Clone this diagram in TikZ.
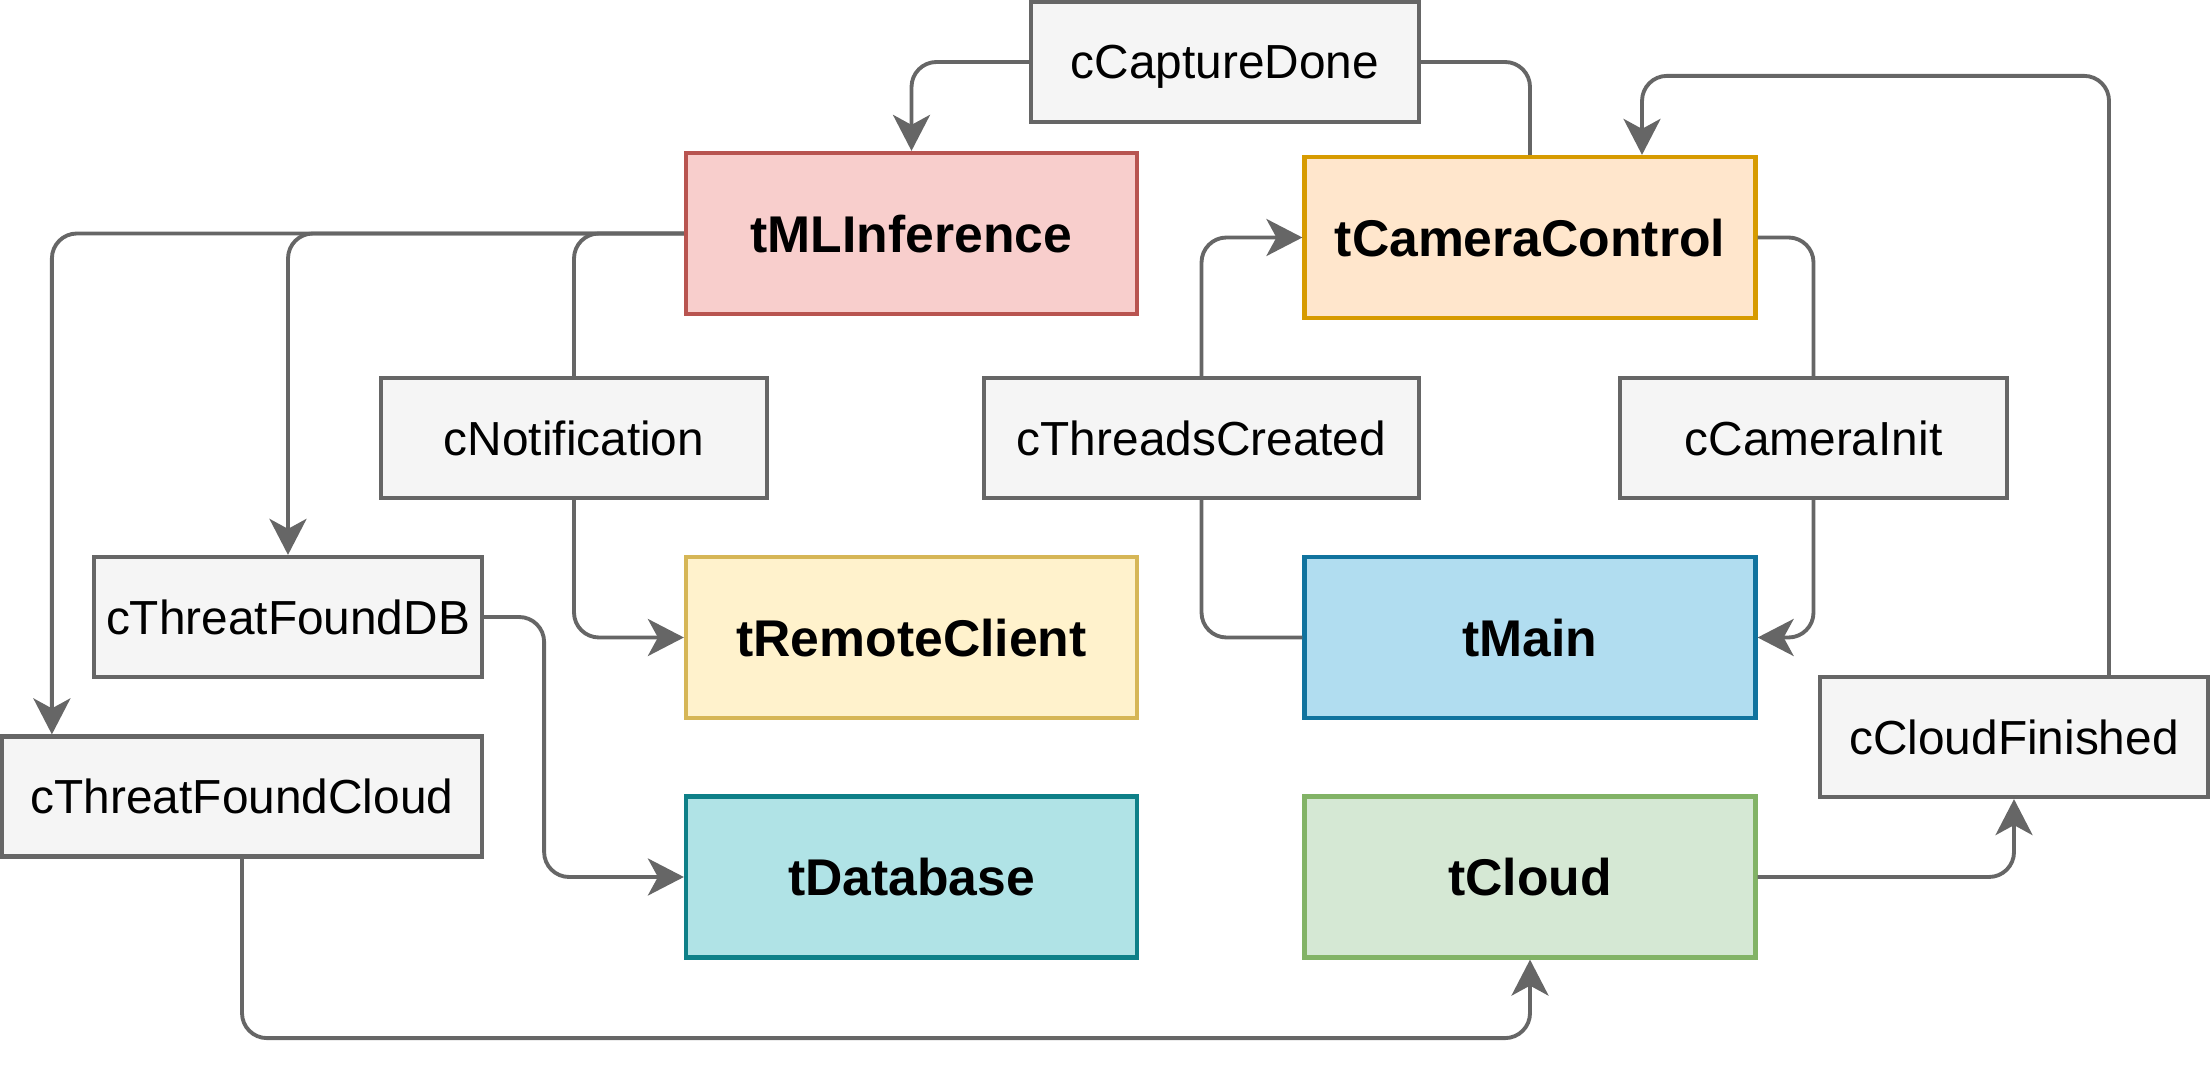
\documentclass[tikz,border=0pt]{standalone}
\usepackage{fontspec}
\usepackage{tikz}
\setmainfont{Liberation Sans}
\usetikzlibrary{arrows.meta}
\usetikzlibrary{positioning}
\definecolor{cgray}{HTML}{666666}
\definecolor{cfill}{HTML}{F5F5F5}
\definecolor{mlfill}{HTML}{F8CECC}
\definecolor{mlline}{HTML}{B85450}
\definecolor{camfill}{HTML}{FFE6CC}
\definecolor{camline}{HTML}{D79B00}
\definecolor{remfill}{HTML}{FFF2CC}
\definecolor{remline}{HTML}{D6B656}
\definecolor{mainfill}{HTML}{B1DDF0}
\definecolor{mainline}{HTML}{10739E}
\definecolor{dbfill}{HTML}{B0E3E6}
\definecolor{dbline}{HTML}{0E8088}
\definecolor{cloudfill}{HTML}{D5E8D4}
\definecolor{cloudline}{HTML}{82B366}
\tikzset{task/.style = {draw, line width=1.2pt, inner sep=0pt, text depth=0pt,
                        minimum width=4.51cm, minimum height=1.61cm,
                        font=\bfseries\fontsize{14.7}{17}\selectfont},
         chan/.style = {draw=cgray, fill=cfill, line width=1.2pt, inner sep=0pt,
                        text depth=0pt, minimum height=1.2cm,
                        font=\fontsize{13.6}{16}\selectfont},
         link/.style = {draw=cgray, line width=1.1pt, rounded corners=0.25cm},
         flow/.style = {link, -{Stealth[length=0.36cm, width=0.37cm, inset=0.1cm]}}}

\begin{document}
\begin{tikzpicture}
    \useasboundingbox (0, 0) rectangle (22.12, -10.72);

    % threads
    \node [task, fill=mlfill, draw=mlline] (mlinf) at (9.115, -2.335) {tMLInference};
    \node [task, fill=camfill, draw=camline] (camctl) at (15.30, -2.375) {tCameraControl};
    \node [task, fill=remfill, draw=remline] (remote) at (9.115, -6.375) {tRemoteClient};
    \node [task, fill=mainfill, draw=mainline] (tmain) at (15.30, -6.375) {tMain};
    \node [task, fill=dbfill, draw=dbline] (dbase) at (9.115, -8.77) {tDatabase};
    \node [task, fill=cloudfill, draw=cloudline] (cloud) at (15.30, -8.77) {tCloud};

    % channels
    \node [chan, minimum width=3.88cm] (capdone) at (12.25, -0.62) {cCaptureDone};
    \node [chan, minimum width=3.86cm] (notif) at (5.74, -4.38) {cNotification};
    \node [chan, minimum width=4.35cm] (threads) at (12.015, -4.38) {cThreadsCreated};
    \node [chan, minimum width=3.87cm] (caminit) at (18.135, -4.38) {cCameraInit};
    \node [chan, minimum width=3.88cm] (tfdb) at (2.88, -6.17) {cThreatFoundDB};
    \node [chan, minimum width=4.80cm] (tfcloud) at (2.42, -7.965) {cThreatFoundCloud};
    \node [chan, minimum width=3.88cm] (cloudfin) at (20.14, -7.37) {cCloudFinished};

    % links
    \draw [flow] (capdone.west) -| (mlinf.north);
    \draw [link] (capdone.east) -| (camctl.north);

    \draw [link] (mlinf.west) -| (notif.north);
    \draw [flow] (mlinf.west) -| (tfdb.north);
    \draw [flow] (mlinf.west) -| ([xshift=0.52cm]tfcloud.north west);

    \draw [flow] (notif.south) |- (remote.west);
    \draw [flow] (tfdb.east) -- ++(0.6, 0) |- (dbase.west);
    \draw [flow] (tfcloud.south) -- ++(0, -1.795) -| (cloud.south);

    \draw [flow] (threads.north) |- (camctl.west);
    \draw [link] (tmain.west) -| (threads.south);
    \draw [link] (camctl.east) -| (caminit.north);
    \draw [flow] (caminit.south) |- (tmain.east);

    \draw [flow] (cloud.east) -| (cloudfin.south);
    \draw [flow] ([xshift=0.95cm]cloudfin.north) |- ([xshift=1.12cm, yshift=0.79cm]camctl.north)
                 -- ([xshift=1.12cm]camctl.north);
  \end{tikzpicture}
\end{document}
